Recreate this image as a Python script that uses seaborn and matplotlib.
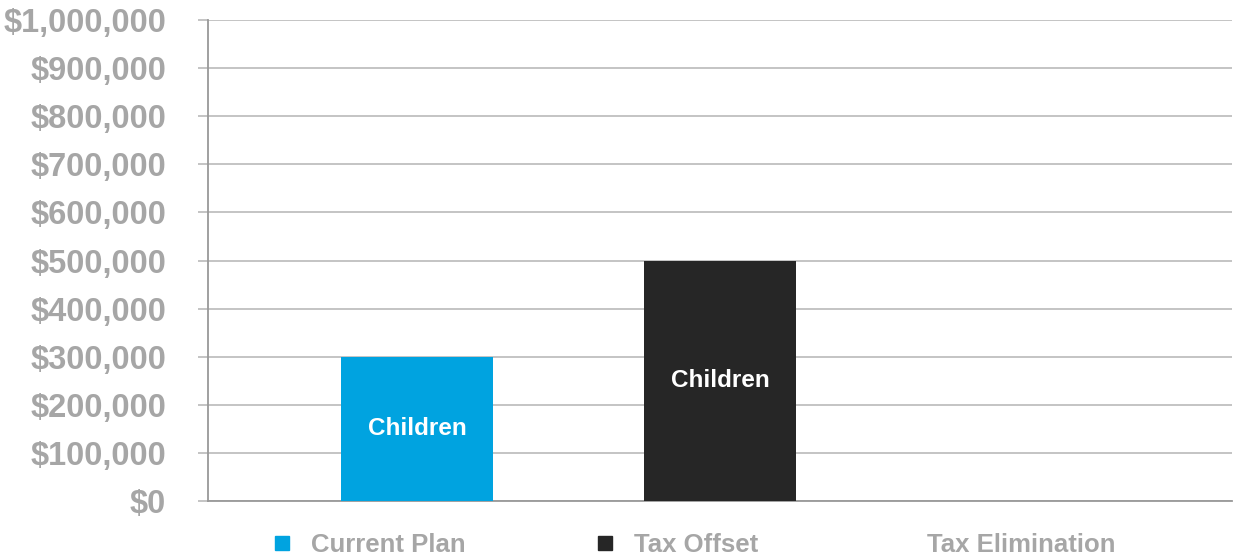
import pandas as pd
import seaborn as sns
import matplotlib.pyplot as plt
from matplotlib.lines import Line2D
from matplotlib.ticker import FuncFormatter

sns.set_theme(style="white")
plt.rcParams['font.family'] = ['Liberation Sans', 'DejaVu Sans']

#%% data
categories = ["Current Plan", "Tax Offset", "Tax Elimination"]
values = [300000, 500000, 0]
bar_labels = ["Children", "Children", ""]
colors = ["#00A3E0", "#262626", "#FFFFFF"]
yticks = list(range(0, 1000001, 100000))

df = pd.DataFrame({"Plan": categories, "Value": values})

grey = "#A6A6A6"

fig = plt.figure(figsize=(12.33, 5.57), dpi=100)
ax = fig.add_axes([0.1687, 0.1005, 0.8305, 0.8635])

sns.barplot(data=df, x="Plan", y="Value", hue="Plan", palette=colors,
            width=0.503, saturation=1, legend=False, ax=ax, zorder=3,
            linewidth=0)

# labels inside the bars
for i, (v, lab) in enumerate(zip(values, bar_labels)):
    if lab:
        ax.text(i, v / 2, lab, ha="center", va="center", color="white",
                fontsize=17.5, fontweight="bold", zorder=4)

ax.set_xlim(-0.69, 2.69)
ax.set_ylim(0, 1000000)
ax.set_yticks(yticks)
ax.yaxis.set_major_formatter(FuncFormatter(lambda v, p: f"${v:,.0f}"))
ax.grid(axis="y", color="#BFBFBF", linewidth=1.3, zorder=0)
ax.set_axisbelow(True)
ax.tick_params(axis="y", length=7, width=1.3, color="#BFBFBF", pad=23,
               labelsize=23.5, labelcolor=grey, left=True)
for t in ax.get_yticklabels():
    t.set_fontweight("bold")
ax.set_xticks([])
ax.set_xlabel("")
ax.set_ylabel("")
for s in ["top", "right"]:
    ax.spines[s].set_visible(False)
ax.spines["left"].set_color("#999999")
ax.spines["bottom"].set_color("#999999")
ax.spines["left"].set_linewidth(1.3)
ax.spines["bottom"].set_linewidth(1.3)

# legend at the bottom
handles = [Line2D([], [], marker="s", linestyle="", markersize=10.5,
                  markerfacecolor=c, markeredgecolor=c) for c in colors]
leg = fig.legend(handles, categories, loc="center", bbox_to_anchor=(0.5625, 0.021),
                 ncol=3, frameon=False, handlelength=0.8, handletextpad=0.75,
                 columnspacing=5.0, prop={"weight": "bold", "size": 18.5})
for t in leg.get_texts():
    t.set_color(grey)

plt.savefig("out.png", dpi=100)
